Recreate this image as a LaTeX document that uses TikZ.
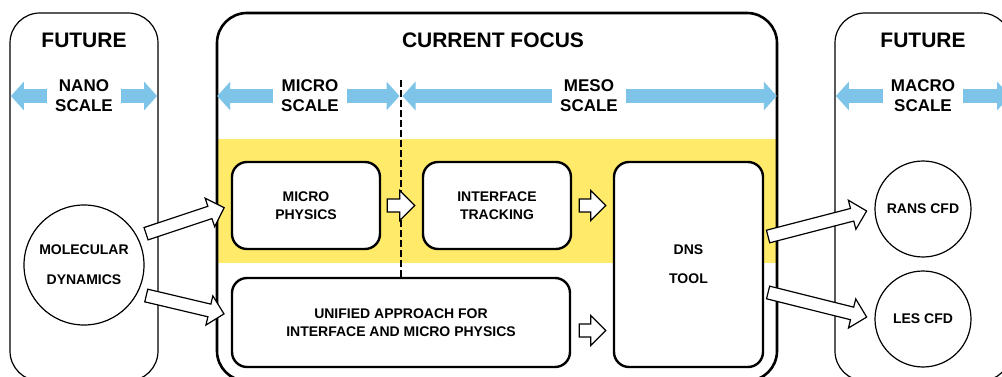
\documentclass[tikz,border=0pt]{standalone}
\usepackage{fontspec}
\setmainfont{Liberation Sans}
\usetikzlibrary{calc,arrows.meta}

\definecolor{bandyellow}{RGB}{255,234,105}
\definecolor{scaleblue}{RGB}{126,195,232}

% outlined block arrow: #1 from, #2 to, #3 gap at tail, #4 gap at tip
\newcommand{\hollowarrow}[4]{%
  \coordinate (ha-p) at (#1);
  \coordinate (ha-q) at (#2);
  \coordinate (ha-s) at ($(ha-p)!#3!(ha-q)$);
  \coordinate (ha-t) at ($(ha-q)!#4!(ha-p)$);
  \coordinate (ha-h) at ($(ha-t)!15pt!(ha-s)$);
  \draw[hollow] ($(ha-s)!6.5pt!90:(ha-t)$) -- ($(ha-h)!6.5pt!90:(ha-t)$)
    -- ($(ha-h)!15pt!90:(ha-t)$) -- (ha-t) -- ($(ha-h)!15pt!-90:(ha-t)$)
    -- ($(ha-h)!6.5pt!-90:(ha-t)$) -- ($(ha-s)!6.5pt!-90:(ha-t)$) -- cycle;
}

\begin{document}
\begin{tikzpicture}[x=1pt,y=-1pt]
	\tikzstyle{every node}+=[font=\bfseries]
	\tikzstyle{panel}=[draw, line width=1.2pt, rounded corners=30pt, minimum height=368pt]
	\tikzstyle{title}=[font=\fontsize{21}{24}\selectfont\bfseries]
	\tikzstyle{scalelbl}=[font=\fontsize{17}{20}\selectfont\bfseries, align=center, inner xsep=8pt, inner ysep=0pt]
	\tikzstyle{box}=[draw, line width=2.4pt, rounded corners=15pt, fill=white, align=center, font=\fontsize{14}{17.5}\selectfont\bfseries]
	\tikzstyle{blob}=[draw, circle, line width=1.2pt, fill=white, align=center, inner sep=0pt, font=\fontsize{14}{17}\selectfont\bfseries]
	\tikzstyle{scalearr}=[scaleblue, line width=14pt, shorten >=1.5pt, -{Triangle[width=28pt,length=13pt]}]
	\tikzstyle{hollow}=[draw, fill=white, line width=1.2pt, line join=miter]
	\tikzstyle{divider}=[line width=2pt, dash pattern=on 7pt off 3pt]

	\useasboundingbox (0,0) rectangle (1002,377);
	\clip (0,0) rectangle (1002,377);

	\fill[bandyellow] (217,139) rectangle (777,263);
	\node[panel, minimum width=148pt] (nanopanel) at (84,197) {};
	\node[panel, minimum width=560pt, line width=2.6pt] (focuspanel) at (497,197) {};
	\node[panel, minimum width=176pt] (macropanel) at (923,197) {};

	\node[title] (futleft) at (84,40) {FUTURE};
	\node[title] (focus) at (493,40) {CURRENT FOCUS};
	\node[title] (futright) at (923,40) {FUTURE};

	\node[scalelbl] (nanoscale) at (84,96) {NANO\\SCALE};
	\node[scalelbl] (microscale) at (310,96) {MICRO\\SCALE};
	\node[scalelbl] (mesoscale) at (589,96) {MESO\\SCALE};
	\node[scalelbl] (macroscale) at (923,96) {MACRO\\SCALE};

	\node[box, minimum width=148pt, minimum height=87pt] (microphys) at (306,205.5) {MICRO\\PHYSICS};
	\node[box, minimum width=148pt, minimum height=87pt] (tracking) at (497,205.5) {INTERFACE\\TRACKING};
	\node[box, minimum width=338pt, minimum height=89pt] (unified) at (401,322.5) {UNIFIED APPROACH FOR\\INTERFACE AND MICRO PHYSICS};
	\node[box, minimum width=149pt, minimum height=205pt, font=\fontsize{14}{29}\selectfont\bfseries] (dns) at (688.5,264.5) {DNS\\TOOL};

	\node[blob, minimum size=120pt, font=\fontsize{14}{30}\selectfont\bfseries] (molecular) at (84,265) {MOLECULAR\\DYNAMICS};
	\node[blob, minimum size=96pt] (rans) at (923,209) {RANS CFD};
	\node[blob, minimum size=96pt] (les) at (923,319) {LES CFD};

	\coordinate (divtop) at (401,80);
	\draw[divider] (divtop) -- (divtop |- unified.north);

	\draw[scalearr] (nanoscale.west) -- (nanoscale.west -| nanopanel.west);
	\draw[scalearr] (nanoscale.east) -- (nanoscale.east -| nanopanel.east);
	\draw[scalearr] (microscale.west) -- (microscale.west -| focuspanel.west);
	\draw[scalearr] (microscale.east) -- (microscale.east -| divtop);
	\draw[scalearr] (mesoscale.west) -- (mesoscale.west -| divtop);
	\draw[scalearr] (mesoscale.east) -- (mesoscale.east -| focuspanel.east);
	\draw[scalearr] (macroscale.west) -- (macroscale.west -| macropanel.west);
	\draw[scalearr] (macroscale.east) -- (macroscale.east -| macropanel.east);

	\hollowarrow{molecular.28}{microphys.west}{9pt}{7pt}
	\hollowarrow{molecular.-28}{$(unified.west)+(0,-7)$}{9pt}{7pt}
	\hollowarrow{microphys.east}{tracking.west}{6pt}{7pt}
	\hollowarrow{tracking.east}{tracking.east -| dns.west}{7pt}{7pt}
	\hollowarrow{$(unified.east)+(0,8)$}{$(unified.east -| dns.west)+(0,8)$}{8pt}{7pt}
	\hollowarrow{$(dns.east)+(0,-27)$}{rans.west}{4pt}{8pt}
	\hollowarrow{$(dns.east)+(0,27)$}{les.west}{4pt}{8pt}
\end{tikzpicture}
\end{document}
